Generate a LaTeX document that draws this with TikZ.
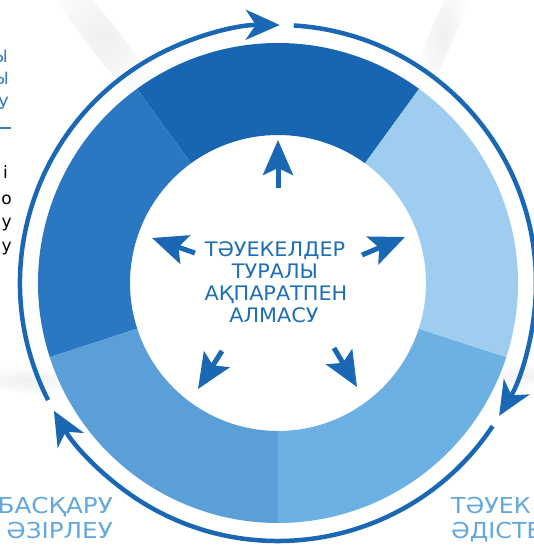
\documentclass[tikz,border=0pt]{standalone}
\usepackage{fontspec}
\setmainfont{DejaVu Sans}
\newfontfamily\djfont[FakeStretch=1.04]{DejaVu Sans}
\newfontfamily\djwide[FakeStretch=1.12]{DejaVu Sans}
\newfontfamily\djright[FakeStretch=1.08]{DejaVu Sans}
\newfontfamily\djplain{DejaVu Sans}
\usetikzlibrary{arrows.meta}
\definecolor{ablue}{HTML}{1A68B3}
\definecolor{segA}{HTML}{1866B2}
\definecolor{segB}{HTML}{2A78C2}
\definecolor{segC}{HTML}{5A9FD8}
\definecolor{segD}{HTML}{6DB0E3}
\definecolor{segE}{HTML}{9ECDEF}
\definecolor{ctext}{HTML}{1E6DB7}
\definecolor{btext}{HTML}{62A8DE}
\definecolor{ltext}{HTML}{3A7FC4}
\tikzset{
  ringarrow/.style={line width=4.5pt, draw=ablue, -{Stealth[length=34pt, width=30pt, inset=10pt]}},
  inarrow/.style={line width=5pt, draw=ablue, -{Stealth[length=35pt, width=30pt, inset=7pt]}},
  ctxt/.style={inner sep=0pt, anchor=base, text=ctext, font=\djfont\fontsize{20}{22}\selectfont},
  btxt/.style={inner sep=0pt, text=btext, font=\djwide\fontsize{22}{25}\selectfont},
  brtxt/.style={inner sep=0pt, anchor=base west, text=btext, font=\djright\fontsize{22}{25}\selectfont},
  lbtxt/.style={inner sep=0pt, anchor=base east, text=ltext, font=\djplain\fontsize{17}{20}\selectfont},
  lktxt/.style={inner sep=0pt, anchor=base east, text=black, font=\djplain\fontsize{17}{20}\selectfont},
  streak/.style={inner color=black!6, outer color=white},
}
\begin{document}
\begin{tikzpicture}[x=1pt,y=1pt]
\useasboundingbox (-278,-265) rectangle (256,283);
\fill[white] (-278,-265) rectangle (256,283);
% faint background streaks
\shade[streak, rotate around={-52:(-175,245)}] (-175,245) ellipse [x radius=100, y radius=16];
\shade[streak, rotate around={68:(165,250)}] (165,250) ellipse [x radius=70, y radius=12];
\shade[streak, rotate around={-8:(-250,-98)}] (-250,-98) ellipse [x radius=60, y radius=12];
\shade[streak, rotate around={8:(245,-92)}] (245,-92) ellipse [x radius=40, y radius=10];
% donut segments
\fill[segA] (54:148) arc[start angle=54, end angle=126, radius=148] -- (126:240) arc[start angle=126, end angle=54, radius=240] -- cycle;
\fill[segB] (126:148) arc[start angle=126, end angle=198, radius=148] -- (198:240) arc[start angle=198, end angle=126, radius=240] -- cycle;
\fill[segC] (198:148) arc[start angle=198, end angle=270, radius=148] -- (270:240) arc[start angle=270, end angle=198, radius=240] -- cycle;
\fill[segD] (270:148) arc[start angle=270, end angle=342, radius=148] -- (342:240) arc[start angle=342, end angle=270, radius=240] -- cycle;
\fill[segE] (342:148) arc[start angle=342, end angle=414, radius=148] -- (414:240) arc[start angle=414, end angle=342, radius=240] -- cycle;
% outer ring with arrows (clockwise)
\coordinate (r1s) at (207:258);
\coordinate (r2s) at (86.5:258);
\coordinate (r3s) at (-33.7:258);
\draw[ringarrow] (r1s) arc[start angle=207, end angle=89.6, radius=258];
\draw[ringarrow] (r2s) arc[start angle=86.5, end angle=-31, radius=258];
\draw[ringarrow] (r3s) arc[start angle=-33.7, end angle=-150.3, radius=258];
% central text
\node[ctxt] (c1) at (-3,26) {ТӘУЕКЕЛДЕР};
\node[ctxt] (c2) at (-3,4) {ТУРАЛЫ};
\node[ctxt] (c3) at (-2,-18) {АҚПАРАТПЕН};
\node[ctxt] (c4) at (-4,-40) {АЛМАСУ};
% inner arrows
\coordinate (t1) at (0,95);   \coordinate (h1) at (0,143);
\coordinate (t2) at (84,28);  \coordinate (h2) at (127,46);
\coordinate (t3) at (-83,30); \coordinate (h3) at (-126,45);
\coordinate (t4) at (-56,-68); \coordinate (h4) at (-80,-106);
\coordinate (t5) at (56,-65); \coordinate (h5) at (79,-104);
\draw[inarrow] (t1) -- (h1);
\draw[inarrow] (t2) -- (h2);
\draw[inarrow] (t3) -- (h3);
\draw[inarrow] (t4) -- (h4);
\draw[inarrow] (t5) -- (h5);
% bottom labels
\node[btxt, anchor=base east] (bl1) at (-165,-230) {БАСҚАРУ};
\node[btxt, anchor=base east] (bl2) at (-165,-255) {ӘЗІРЛЕУ};
\node[brtxt] (br1) at (173,-230) {ТӘУЕК};
\node[brtxt] (br2) at (173,-255) {ӘДІСТЕ};
% left edge fragments
\node[lbtxt] (lf1) at (-270,220) {Ы};
\node[lbtxt] (lf2) at (-269,198) {Ы};
\node[lbtxt] (lf3) at (-269,173) {У};
\coordinate (ul1) at (-290,155);
\coordinate (ul2) at (-267,155);
\draw[ltext, line width=1.5pt] (ul1) -- (ul2);
\node[lktxt] (lk1) at (-270,104) {і};
\node[lktxt] (lk2) at (-266,78) {о};
\node[lktxt] (lk3) at (-266,55) {у};
\node[lktxt] (lk4) at (-266,31) {у};
\end{tikzpicture}
\end{document}
